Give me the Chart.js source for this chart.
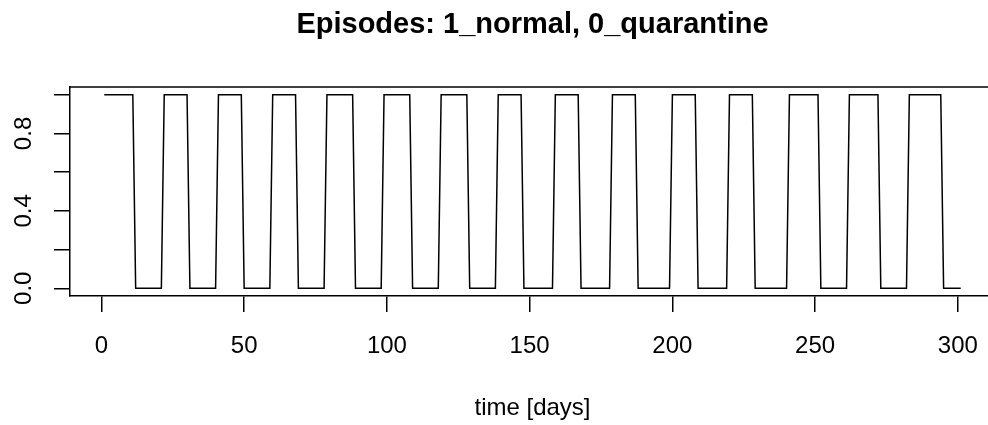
<!DOCTYPE html>
<html lang="en">
<head>
    <meta charset="UTF-8">
    <title>Episodes: 1_normal, 0_quarantine</title>
    <style>
        body { margin: 0; overflow: hidden; background: #fff; }
        .chart-container { width: 988px; height: 425px; }
    </style>
</head>
<body>
    <div class="chart-container">
        <canvas id="episodeChart"></canvas>
    </div>

    <script src="https://cdn.jsdelivr.net/npm/chart.js"></script>
    <script>
        // corner points of the episode curve (day, state)
        const days = [1, 11, 12, 21, 22, 30, 31, 40, 41, 49, 50, 59, 60, 68, 69, 78,
                      79, 88, 89, 98, 99, 108, 109, 118, 119, 128, 129, 138, 139, 147,
                      148, 158, 159, 167, 168, 178, 179, 187, 188, 199, 200, 208, 209, 219,
                      220, 228, 229, 240, 241, 251, 252, 261, 262, 272, 273, 282, 283, 294,
                      295, 301];
        const state = [1, 1, 0, 0, 1, 1, 0, 0, 1, 1, 0, 0, 1, 1, 0, 0,
                       1, 1, 0, 0, 1, 1, 0, 0, 1, 1, 0, 0, 1, 1,
                       0, 0, 1, 1, 0, 0, 1, 1, 0, 0, 1, 1, 0, 0,
                       1, 1, 0, 0, 1, 1, 0, 0, 1, 1, 0, 0, 1, 1,
                       0, 0];

        const xTicks = [0, 50, 100, 150, 200, 250, 300];
        const yTicks = [0, 0.2, 0.4, 0.6, 0.8, 1.0];
        const yLabels = ['0.0', '', '0.4', '', '0.8', ''];

        Chart.defaults.font.family = '"Liberation Sans", Arial, Helvetica, sans-serif';
        Chart.defaults.color = '#000';

        // the R plot region ends ~7px past the right edge of the picture:
        // stretch the x scale, the plot area and the title block after layout
        const overhangPlugin = {
            id: 'overhang',
            afterLayout(chart) {
                const extra = 7;
                const x = chart.scales.x;
                x.right += extra;
                x.width += extra;
                x.configure();
                chart.chartArea.right += extra;
                chart.chartArea.width += extra;
                if (chart.titleBlock) {
                    chart.titleBlock.right += extra;
                    chart.titleBlock.width += extra;
                }
            }
        };

        // top edge of the R box (left and bottom come from the axis borders,
        // the right edge is outside the picture)
        const boxPlugin = {
            id: 'plotBox',
            afterDatasetsDraw(chart) {
                const { ctx, chartArea } = chart;
                ctx.save();
                ctx.strokeStyle = '#000';
                ctx.lineWidth = 1.5;
                ctx.beginPath();
                ctx.moveTo(chartArea.left, chartArea.top);
                ctx.lineTo(chart.width, chartArea.top);
                ctx.stroke();
                ctx.restore();
            }
        };

        const ctx = document.getElementById('episodeChart').getContext('2d');
        const episodeChart = new Chart(ctx, {
            type: 'line',
            data: {
                datasets: [{
                    data: days.map((d, i) => ({ x: d, y: state[i] })),
                    borderColor: '#000',
                    borderWidth: 1.5,
                    pointRadius: 0,
                    tension: 0,
                    fill: false,
                }]
            },
            options: {
                responsive: true,
                maintainAspectRatio: false,
                animation: false,
                layout: { padding: { left: 0, right: 0, top: 0, bottom: 0 } },
                plugins: {
                    legend: { display: false },
                    tooltip: { enabled: false },
                    title: {
                        display: true,
                        text: 'Episodes: 1_normal, 0_quarantine',
                        fullSize: false,
                        color: '#000',
                        font: { size: 29, weight: 'bold' },
                        padding: { top: 7.6, bottom: 44.6 }
                    }
                },
                scales: {
                    x: {
                        type: 'linear',
                        min: -11,
                        max: 313,
                        afterBuildTicks: (scale) => { scale.ticks = xTicks.map(v => ({ value: v })); },
                        afterFit: (scale) => {
                            scale.height = 129;
                            scale.paddingLeft = 0;
                            scale.paddingRight = 0;
                        },
                        grid: { drawOnChartArea: false, drawTicks: true, tickLength: 16, color: '#000', lineWidth: 1.5 },
                        border: { display: true, color: '#000', width: 1.5 },
                        ticks: { font: { size: 24 }, padding: 19.6, maxRotation: 0, autoSkip: false },
                        title: {
                            display: true,
                            text: 'time [days]',
                            font: { size: 24 },
                            padding: { top: 0, bottom: 2.6 }
                        }
                    },
                    y: {
                        type: 'linear',
                        min: -0.04,
                        max: 1.04,
                        afterBuildTicks: (scale) => { scale.ticks = yTicks.map(v => ({ value: v })); },
                        afterFit: (scale) => {
                            scale.width = 70;
                            scale.paddingTop = 0;
                            scale.paddingBottom = 0;
                        },
                        grid: { drawOnChartArea: false, drawTicks: true, tickLength: 16, color: '#000', lineWidth: 1.5 },
                        border: { display: true, color: '#000', width: 1.5 },
                        ticks: {
                            font: { size: 24 },
                            padding: 13.3,
                            minRotation: 90,
                            maxRotation: 90,
                            crossAlign: 'center',
                            autoSkip: false,
                            callback: (value, index) => yLabels[index]
                        }
                    }
                }
            },
            plugins: [overhangPlugin, boxPlugin]
        });
    </script>
</body>
</html>
